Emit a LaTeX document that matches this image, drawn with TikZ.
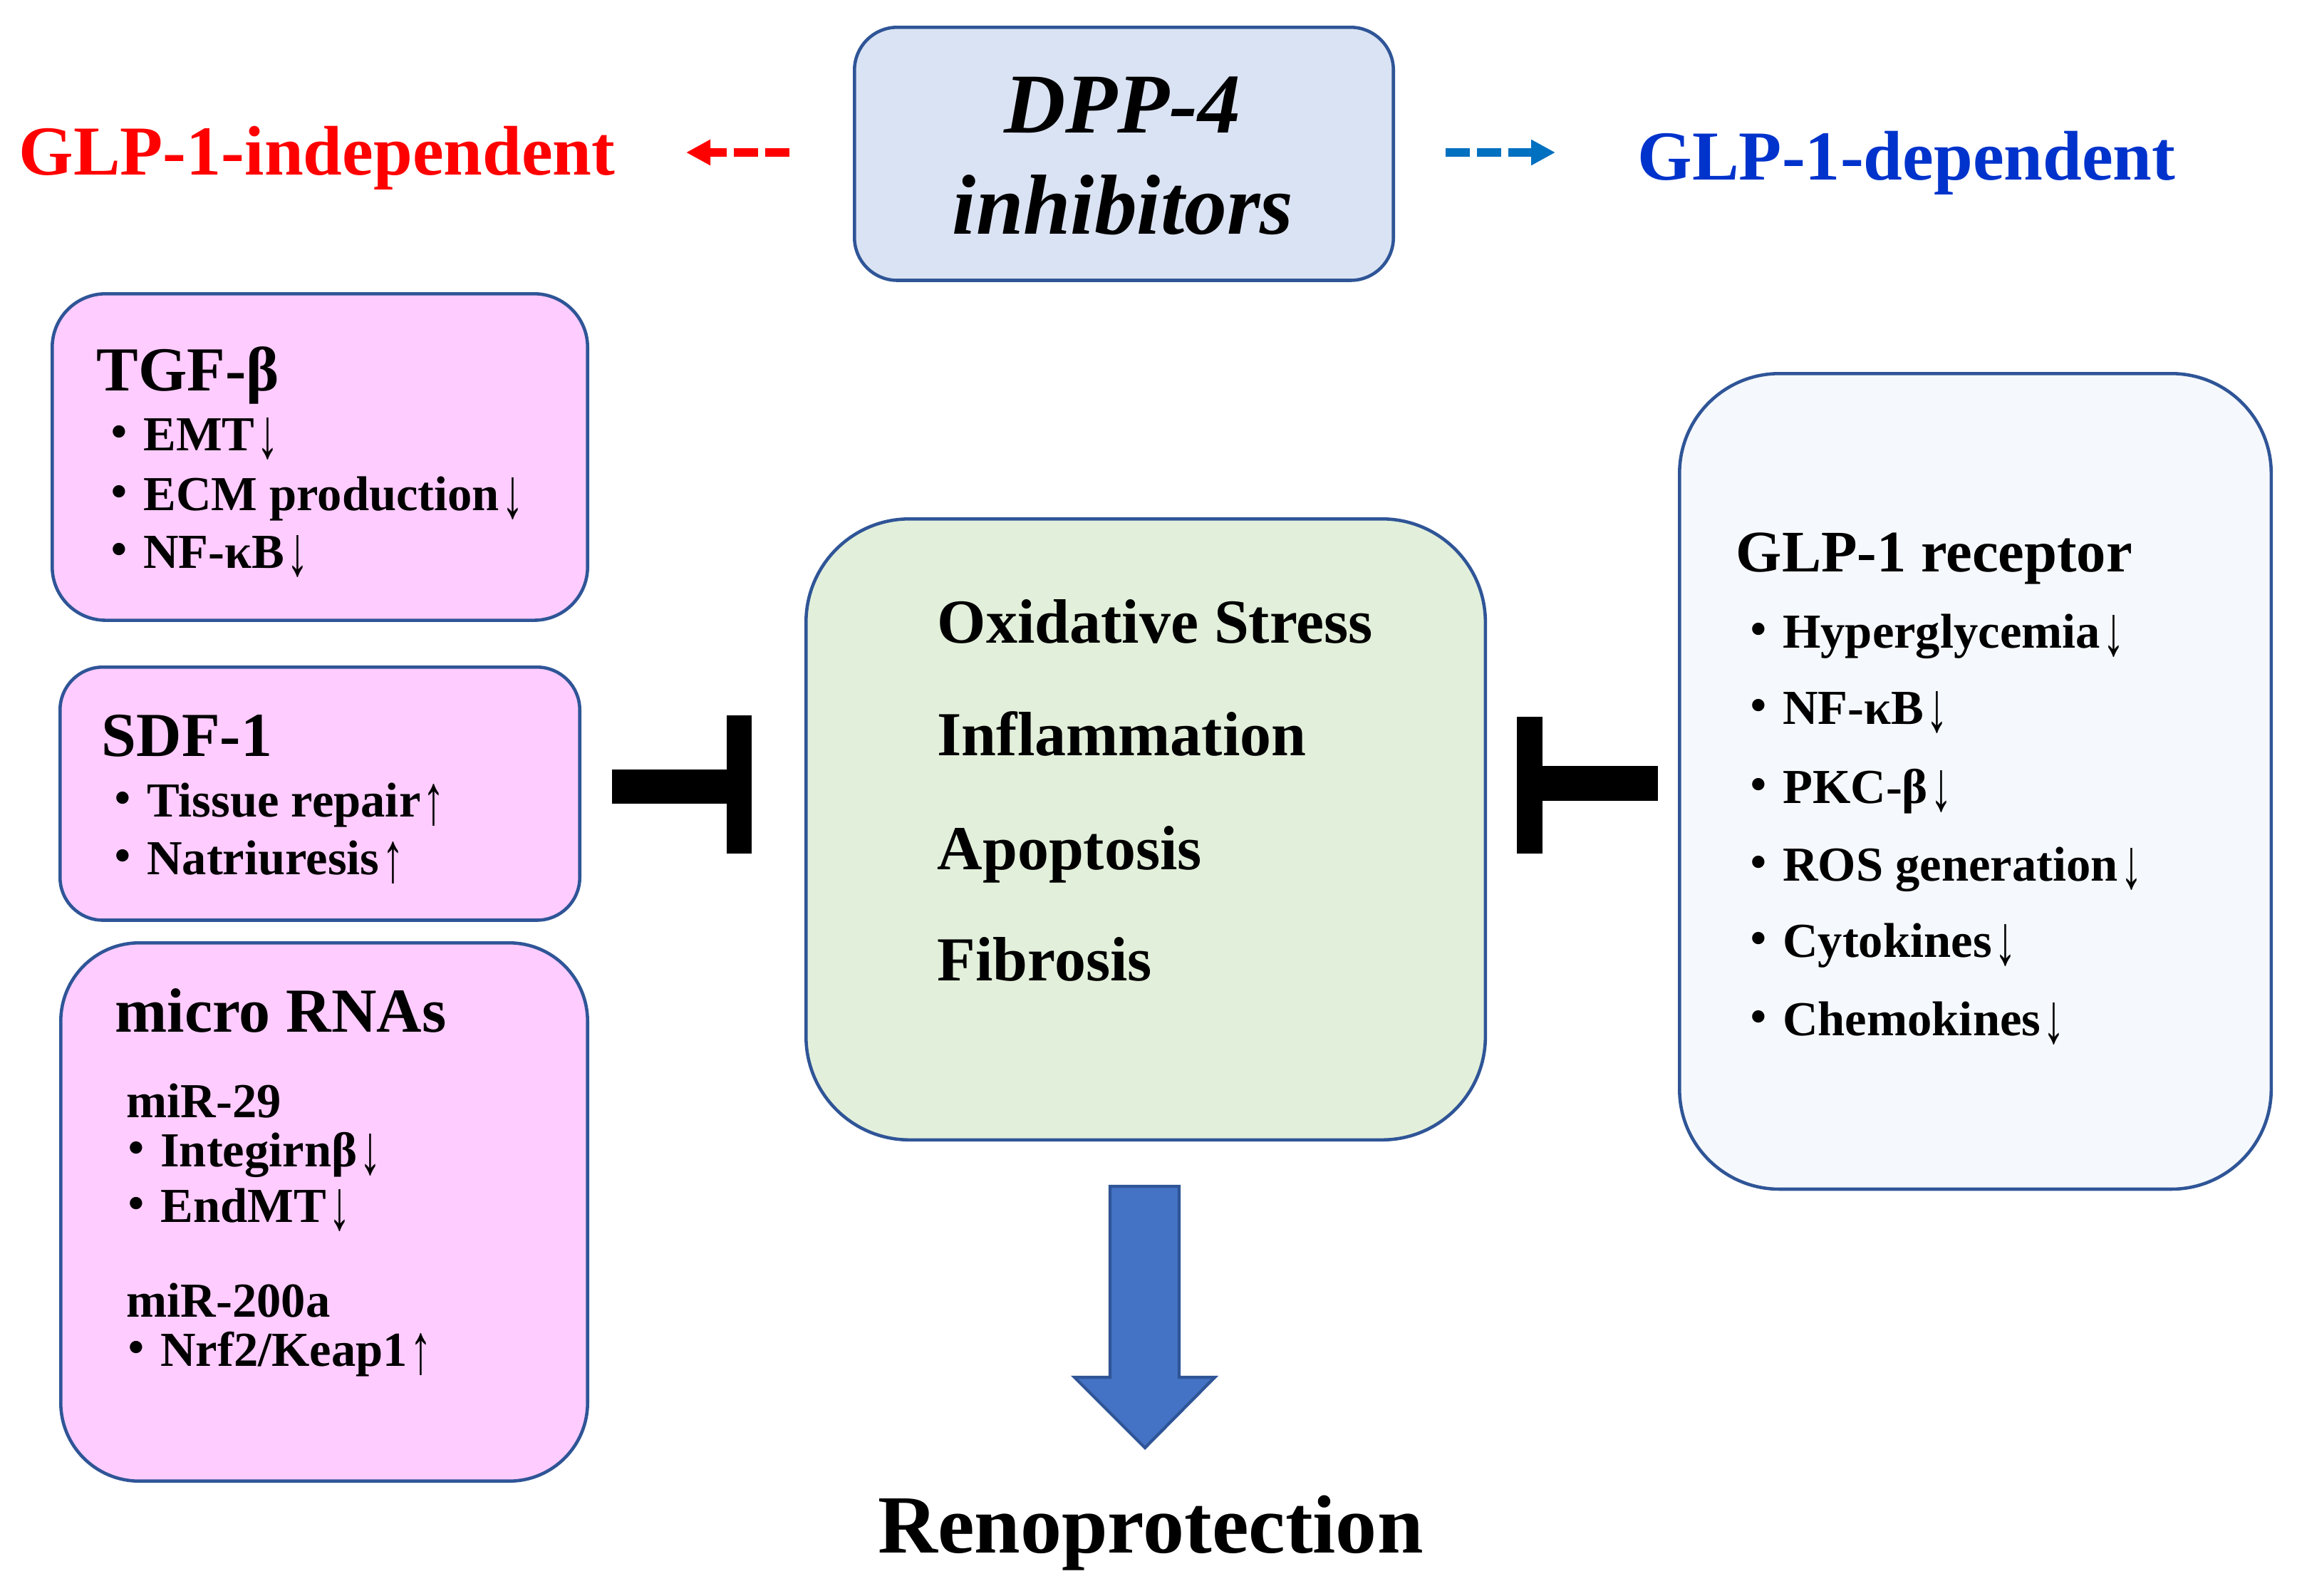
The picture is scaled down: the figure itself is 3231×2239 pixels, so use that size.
\documentclass[tikz,border=0pt]{standalone}
\usepackage{fontspec}
\usepackage{graphicx}
\setmainfont{Liberation Serif}
\newfontfamily\cjk{Noto Sans CJK JP}
\usetikzlibrary{arrows.meta}
\definecolor{bordc}{HTML}{2F5597}
\definecolor{pinkc}{HTML}{FFCCFF}
\definecolor{dppc}{HTML}{DAE3F3}
\definecolor{greenc}{HTML}{E2EFDA}
\definecolor{recc}{HTML}{F5F8FC}
\definecolor{depblue}{HTML}{0033CC}
\definecolor{arrblue}{HTML}{0070C0}
\definecolor{bigarrow}{HTML}{4472C4}
\newcommand{\mybul}{\makebox[1em][c]{\smash{\raisebox{0.04em}{\scalebox{0.9}{\cjk ・}}}}}
\newcommand{\mydn}{\kern0.05em\smash{\raisebox{-0.2em}{\resizebox{0.45em}{0.86em}{\raisebox{\depth}{↓}}}}}
\newcommand{\myup}{\kern0.05em\smash{\raisebox{-0.2em}{\resizebox{0.45em}{0.86em}{\raisebox{\depth}{↑}}}}}
\begin{document}
\begin{tikzpicture}[x=0.01cm,y=-0.01cm,
  box/.style={draw=bordc, line width=1.3pt, inner sep=0pt, anchor=north west},
  item/.style={anchor=base west, inner sep=0pt, font=\bfseries\fontsize{19.5pt}{23pt}\selectfont},
  head/.style={anchor=base west, inner sep=0pt, font=\bfseries\fontsize{25pt}{29pt}\selectfont},
  mid/.style={anchor=base west, inner sep=0pt, font=\bfseries\fontsize{25pt}{29pt}\selectfont},
  side/.style={anchor=base, inner sep=0pt, font=\bfseries\fontsize{28pt}{32pt}\selectfont},
  dasharrow/.style={line width=0.12cm, dash pattern=on 0.34cm off 0.1cm, -{Triangle[length=0.34cm,width=0.34cm]}},
  tbar/.style={fill=black, draw=none}
]
\useasboundingbox (0,0) rectangle (3231,2239);

% top
\node[box, fill=dppc, rounded corners=0.6cm, minimum width=7.56cm, minimum height=3.55cm] (dpp) at (1197,36) {};
\node[anchor=base, inner sep=0pt, font=\bfseries\itshape\fontsize{34pt}{40pt}\selectfont] (dppa) at (1575,186) {DPP-4};
\node[anchor=base, inner sep=0pt, font=\bfseries\itshape\fontsize{34pt}{40pt}\selectfont] (dppb) at (1576,328) {inhibitors};

\node[side, text=red] (indep) at (445,245) {GLP-1-independent};
\node[side, text=depblue] (dep) at (2676,252) {GLP-1-dependent};
\coordinate (ra1) at (1108,214);
\coordinate (ra2) at (963,214);
\coordinate (ba1) at (2029,214);
\coordinate (ba2) at (2183,214);
\draw[dasharrow, red] (ra1) -- (ra2);
\draw[dasharrow, arrblue] (ba1) -- (ba2);

% left boxes
\node[box, fill=pinkc, rounded corners=0.75cm, minimum width=7.51cm, minimum height=4.58cm] (tgf) at (71,410) {};
\node[head] (tgft) at (135,548) {TGF-β};
\node[item] (tgf1) at (132,632) {\mybul EMT\mydn};
\node[item] (tgf2) at (132,716) {\mybul ECM production\mydn};
\node[item] (tgf3) at (132,797) {\mybul NF-κB\mydn};

\node[box, fill=pinkc, rounded corners=0.6cm, minimum width=7.29cm, minimum height=3.55cm] (sdf) at (82,934) {};
\node[head] (sdft) at (142,1061) {SDF-1};
\node[item] (sdf1) at (137,1146) {\mybul Tissue repair\myup};
\node[item] (sdf2) at (137,1227) {\mybul Natriuresis\myup};

\node[box, fill=pinkc, rounded corners=1.1cm, minimum width=7.39cm, minimum height=7.55cm] (mir) at (83,1321) {};
\node[head] (mirt) at (161,1448) {micro RNAs};
\node[item] (mir1) at (177,1568) {miR-29};
\node[item] (mir2) at (156,1637) {\mybul Integirnβ\mydn};
\node[item] (mir3) at (156,1715) {\mybul EndMT\mydn};
\node[item] (mir4) at (177,1848) {miR-200a};
\node[item] (mir5) at (156,1917) {\mybul Nrf2/Keap1\myup};

% center
\node[box, fill=greenc, rounded corners=1.45cm, minimum width=9.53cm, minimum height=8.71cm] (ctr) at (1129,726) {};
\node[mid] (c1) at (1315,902) {Oxidative Stress};
\node[mid] (c2) at (1315,1060) {Inflammation};
\node[mid] (c3) at (1315,1220) {Apoptosis};
\node[mid] (c4) at (1315,1376) {Fibrosis};

% right
\node[box, fill=recc, rounded corners=1.4cm, minimum width=8.3cm, minimum height=11.44cm] (rec) at (2355,522) {};
\node[anchor=base west, inner sep=0pt, font=\bfseries\fontsize{23.5pt}{28pt}\selectfont] (rect) at (2436,802) {GLP-1 receptor};
\node[item] (rec1) at (2433,909) {\mybul Hyperglycemia\mydn};
\node[item] (rec2) at (2433,1016) {\mybul NF-κB\mydn};
\node[item] (rec3) at (2433,1127) {\mybul PKC-β\mydn};
\node[item] (rec4) at (2433,1236) {\mybul ROS generation\mydn};
\node[item] (rec5) at (2433,1343) {\mybul Cytokines\mydn};
\node[item] (rec6) at (2433,1453) {\mybul Chemokines\mydn};

% inhibition bars
\fill[tbar] (859,1080) rectangle (1020,1128);
\fill[tbar] (1020,1004) rectangle (1055,1198);
\fill[tbar] (2129,1006) rectangle (2165,1198);
\fill[tbar] (2165,1075) rectangle (2327,1124);

% big arrow
\draw[fill=bigarrow, draw=bordc, line width=1.2pt, line join=miter]
  (1558,1665) -- (1655,1665) -- (1655,1933) -- (1705,1933) -- (1607,2032) -- (1508,1933) -- (1558,1933) -- cycle;
\node[anchor=base, inner sep=0pt, font=\bfseries\fontsize{33pt}{38pt}\selectfont] (reno) at (1615,2179) {Renoprotection};
\end{tikzpicture}
\end{document}
